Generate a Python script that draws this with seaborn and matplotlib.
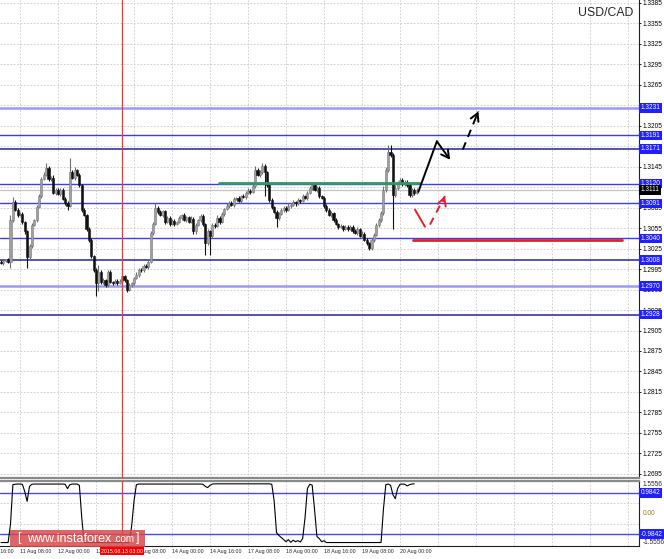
import numpy as np
import pandas as pd
import seaborn as sns
import matplotlib.pyplot as plt
import matplotlib.transforms as mtransforms
from matplotlib.patches import Rectangle

# USD/CAD H1, bar 0 = 11 Aug 00:00 (weekend hours skipped, like the terminal does)
first_open = 1.3006
closes = [
    1.3004, 1.3007, 1.3009, 1.3006, 1.3067, 1.3093, 1.3082, 1.3074, 1.3076, 1.3064,
    1.3050, 1.3013, 1.3029, 1.3060, 1.3067, 1.3086, 1.3102, 1.3127, 1.3133, 1.3143,
    1.3127, 1.3129, 1.3107, 1.3111, 1.3105, 1.3111, 1.3098, 1.3092, 1.3088, 1.3137,
    1.3129, 1.3140, 1.3133, 1.3118, 1.3082, 1.3074, 1.3053, 1.3038, 1.3014, 1.2994,
    1.2975, 1.2991, 1.2976, 1.2979, 1.2971, 1.2991, 1.2976, 1.2975, 1.2978, 1.2975,
    1.2978, 1.2985, 1.2979, 1.2965, 1.2971, 1.2974, 1.2982, 1.2987, 1.2994, 1.2993,
    1.3000, 1.2998, 1.3006, 1.3048, 1.3061, 1.3085, 1.3079, 1.3074, 1.3080, 1.3064,
    1.3070, 1.3061, 1.3066, 1.3061, 1.3064, 1.3070, 1.3074, 1.3067, 1.3071, 1.3064,
    1.3069, 1.3050, 1.3060, 1.3067, 1.3073, 1.3061, 1.3033, 1.3050, 1.3044, 1.3060,
    1.3058, 1.3070, 1.3064, 1.3076, 1.3083, 1.3088, 1.3092, 1.3089, 1.3098, 1.3099,
    1.3095, 1.3102, 1.3101, 1.3107, 1.3110, 1.3108, 1.3117, 1.3140, 1.3133, 1.3137,
    1.3146, 1.3137, 1.3118, 1.3096, 1.3086, 1.3079, 1.3070, 1.3076, 1.3082, 1.3085,
    1.3082, 1.3088, 1.3089, 1.3093, 1.3091, 1.3096, 1.3095, 1.3102, 1.3099, 1.3107,
    1.3114, 1.3118, 1.3111, 1.3114, 1.3102, 1.3099, 1.3088, 1.3082, 1.3074, 1.3077,
    1.3067, 1.3061, 1.3057, 1.3058, 1.3054, 1.3057, 1.3054, 1.3057, 1.3051, 1.3048,
    1.3053, 1.3044, 1.3047, 1.3038, 1.3033, 1.3026, 1.3038, 1.3045, 1.3060, 1.3067,
    1.3077, 1.3111, 1.3140, 1.3167, 1.3162, 1.3104, 1.3114, 1.3121, 1.3125, 1.3120,
    1.3123, 1.3118, 1.3104, 1.3111, 1.3107, 1.3111,
]
upper_wick_pips = [
    2, 2, 1, 2, 7, 7, 3, 2, 3, 2,  2, 2, 3, 3, 2, 3, 3, 3, 4, 7,
    3, 2, 3, 2, 2, 2, 3, 2, 2, 20,  3, 4, 2, 3, 2, 3, 2, 3, 2, 2,
    3, 10, 2, 3, 2, 3, 2, 2, 3, 2,  2, 23, 2, 2, 3, 2, 2, 3, 2, 3,
    2, 3, 2, 3, 3, 6, 2, 3, 2, 2,  3, 2, 3, 2, 2, 3, 2, 3, 2, 2,
    3, 2, 3, 2, 3, 2, 2, 3, 2, 3,  3, 4, 2, 3, 2, 3, 2, 2, 3, 2,
    3, 2, 3, 2, 3, 2, 3, 6, 3, 3,  4, 3, 2, 2, 3, 2, 2, 3, 2, 3,
    2, 3, 2, 3, 2, 3, 2, 3, 2, 3,  3, 3, 2, 3, 2, 2, 3, 2, 2, 3,
    2, 3, 2, 3, 2, 3, 2, 3, 2, 2,  3, 2, 3, 2, 2, 2, 3, 3, 3, 3,
    3, 5, 4, 9, 10, 3, 4, 3, 3, 3,  3, 3, 3, 3, 2, 2,
]
lower_wick_pips = [
    2, 3, 2, 2, 9, 3, 2, 3, 2, 3,  3, 16, 3, 3, 2, 3, 2, 3, 2, 2,
    3, 3, 2, 3, 2, 3, 2, 3, 6, 2,  2, 3, 2, 3, 3, 2, 3, 3, 3, 3,
    20, 12, 3, 3, 3, 3, 2, 3, 2, 3,  2, 16, 3, 3, 2, 3, 2, 2, 3, 2,
    3, 2, 3, 2, 3, 2, 3, 2, 3, 3,  2, 3, 2, 3, 2, 2, 3, 2, 3, 2,
    2, 3, 3, 2, 3, 3, 18, 3, 28, 3,  3, 2, 3, 2, 3, 2, 3, 2, 3, 2,
    2, 3, 2, 3, 2, 3, 2, 3, 2, 3,  3, 35, 3, 3, 3, 2, 13, 3, 2, 3,
    3, 2, 3, 2, 3, 2, 3, 2, 2, 3,  2, 3, 2, 3, 3, 2, 3, 3, 2, 3,
    3, 2, 3, 2, 3, 2, 3, 2, 3, 2,  3, 2, 3, 2, 3, 3, 3, 3, 2, 3,
    3, 3, 3, 3, 3, 51, 3, 3, 2, 3,  3, 3, 4, 3, 3, 2,
]
# oscillator in the lower window
osc = [
    -1.39, -1.39, -1.39, -1.39, -0.50, 1.38, 1.40, 1.41, 1.41, 1.40,
    1.05, 0.58, 1.30, 1.40, 1.41, 1.41, 1.41, 1.41, 1.41, 1.41,
    1.41, 1.41, 1.41, 1.41, 1.41, 1.41, 1.41, 1.40, 1.19, 1.38,
    1.41, 1.41, 1.41, 1.35, -0.20, -1.39, -1.39, -1.39, -1.39, -1.39,
    -1.39, -1.39, -1.39, -1.39, -1.39, -1.39, -1.39, -1.39, -1.39, -1.39,
    -1.39, -1.39, -1.39, -1.39, -1.39, -0.60, 0.60, 1.38, 1.41, 1.41,
    1.41, 1.41, 1.41, 1.41, 1.41, 1.41, 1.41, 1.41, 1.41, 1.41,
    1.41, 1.41, 1.41, 1.41, 1.41, 1.41, 1.41, 1.41, 1.41, 1.41,
    1.41, 1.41, 1.41, 1.41, 1.41, 1.40, 1.30, 1.24, 1.35, 1.41,
    1.42, 1.42, 1.42, 1.42, 1.42, 1.42, 1.42, 1.42, 1.42, 1.42,
    1.42, 1.42, 1.42, 1.42, 1.42, 1.42, 1.42, 1.42, 1.42, 1.42,
    1.42, 1.42, 1.42, 1.42, 1.40, 0.60, -0.92, -1.05, -1.15, -1.25,
    -1.35, -1.25, -1.38, -1.28, -1.35, -1.30, -1.36, -1.20, -0.20, 1.20,
    1.40, 1.36, 0.20, -1.10, -1.20, -1.35, -1.30, -1.39, -1.39, -1.39,
    -1.39, -1.39, -1.39, -1.39, -1.39, -1.39, -1.39, -1.39, -1.39, -1.39,
    -1.39, -1.39, -1.39, -1.39, -1.39, -1.39, -1.39, -1.39, -1.39, -1.39,
    -1.39, 0.20, 1.38, 1.41, 1.35, 0.90, 0.71, 1.20, 1.40, 1.41,
    1.40, 1.32, 1.38, 1.41, 1.42,
]
osc_levels = [0.9842, -0.9842]
osc_scale = 1.5556

level_prices = [1.3231, 1.3191, 1.3171, 1.3120, 1.3091, 1.3040, 1.3008, 1.2970, 1.2928]
bid_price = 1.3111
price_ticks = [1.3385, 1.3355, 1.3325, 1.3295, 1.3265, 1.3235, 1.3205, 1.3175,
               1.3145, 1.3115, 1.3085, 1.3055, 1.3025, 1.2995, 1.2965, 1.2935,
               1.2905, 1.2875, 1.2845, 1.2815, 1.2785, 1.2755, 1.2725, 1.2695]

time_tick_bars = [-8, 8, 24, 40, 56, 72, 88, 104, 120, 136, 152, 168]
time_tick_labels = ["10 Aug 16:00", "11 Aug 08:00", "12 Aug 00:00", "12 Aug 16:00",
                    "13 Aug 08:00", "14 Aug 00:00", "14 Aug 16:00", "17 Aug 08:00",
                    "18 Aug 00:00", "18 Aug 16:00", "19 Aug 08:00", "20 Aug 00:00"]
grid_bars = [8, 24, 40, 56, 72, 88, 104, 120, 136, 152, 168, 184, 200, 216, 232, 248, 264]
marker_bar = 51
marker_label = "2015.08.13 03:00"

# drawn analysis
support_bars = [91.8, 176.4]
support_price = 1.3121
target_bars = [173.5, 261.5]
target_price = 1.3038
black_bars = [175.7, 183.5, 189.1]
black_prices = [1.3108, 1.3182, 1.3155]
black_dash_bars = [194.4, 201.0]
black_dash_prices = [1.3170, 1.3226]
red_bars = [174.3, 178.5]
red_prices = [1.3082, 1.3057]
red_dash_bars = [180.6, 186.9]
red_dash_prices = [1.3060, 1.3102]

sns.set_style("white")
plt.rcParams['font.family'] = ['Liberation Sans', 'DejaVu Sans']

W, H = 664, 559
fig = plt.figure(figsize=(W / 100, H / 100), dpi=100)
ax = fig.add_axes([0, (H - 478) / H, 639 / W, 478 / H])
axi = fig.add_axes([0, (H - 546) / H, 639 / W, 65 / H], sharex=ax)

df = pd.DataFrame({'close': closes})
df['open'] = [first_open] + closes[:-1]
df['high'] = df[['open', 'close']].max(axis=1) + np.array(upper_wick_pips) * 0.0001
df['low'] = df[['open', 'close']].min(axis=1) - np.array(lower_wick_pips) * 0.0001
df['bar'] = np.arange(len(df))
up = df['close'] >= df['open']

# levels
light = {1.3231, 1.2970}
dark = {1.3171, 1.3008, 1.2928}
for p in level_prices:
    if p in light:
        ax.axhline(p, color='#9a9af6', lw=1.8, zorder=2)
    elif p in dark:
        ax.axhline(p, color='#24249c', lw=1.1, zorder=2)
    else:
        ax.axhline(p, color='#3c3cf0', lw=1.0, zorder=2)
ax.axhline(bid_price, color='#c4c4c4', lw=0.9, zorder=2)

# candles
ax.vlines(df.loc[up, 'bar'], df.loc[up, 'low'], df.loc[up, 'high'], color='#6e6e6e', lw=0.8, zorder=3)
ax.vlines(df.loc[~up, 'bar'], df.loc[~up, 'low'], df.loc[~up, 'high'], color='#111111', lw=0.8, zorder=3)
ax.bar(df.loc[up, 'bar'], (df['close'] - df['open'])[up], bottom=df.loc[up, 'open'],
       width=0.9, color='#a0a0a0', edgecolor='#7a7a7a', lw=0.4, zorder=4)
ax.bar(df.loc[~up, 'bar'], (df['close'] - df['open'])[~up], bottom=df.loc[~up, 'open'],
       width=0.9, color='#111111', edgecolor='#111111', lw=0.4, zorder=4)

# analysis drawings
ax.plot(support_bars, [support_price] * 2, color='#2f9a63', lw=2, zorder=5)
ax.plot(target_bars, [target_price] * 2, color='#e5202a', lw=2, zorder=5)
ax.plot(black_bars[:2], black_prices[:2], color='black', lw=1.4, zorder=6)
head = dict(arrowstyle='->,head_length=0.55,head_width=0.3', lw=1.4, shrinkA=0, shrinkB=0)
ax.annotate('', xy=(black_bars[2], black_prices[2]), xytext=(black_bars[1], black_prices[1]),
            arrowprops=dict(color='black', **head), zorder=6)
ax.plot(black_dash_bars, black_dash_prices, color='black', lw=1.4, ls=(0, (4, 3)), zorder=6)
ax.annotate('', xy=(black_dash_bars[1], black_dash_prices[1]),
            xytext=(black_dash_bars[1] - 1.0, black_dash_prices[1] - 0.0008),
            arrowprops=dict(color='black', **head), zorder=6)
ax.plot(red_bars, red_prices, color='#e5202a', lw=1.4, zorder=6)
ax.plot(red_dash_bars, red_dash_prices, color='#e5202a', lw=1.4, ls=(0, (4, 3)), zorder=6)
ax.annotate('', xy=(red_dash_bars[1], red_dash_prices[1]),
            xytext=(red_dash_bars[1] - 0.8, red_dash_prices[1] - 0.0008),
            arrowprops=dict(color='#e5202a', **head), zorder=6)

for a in (ax, axi):
    a.axvline(marker_bar, color='#ff3030', lw=0.9, zorder=5)

ax.set_xlim(-0.42, 268.6)
ax.set_ylim(1.2689, 1.3389)

# grid + price scale
ax.set_xticks(grid_bars)
ax.tick_params(axis='x', length=0, labelbottom=False)
ax.yaxis.tick_right()
ax.set_yticks(price_ticks)
ax.set_yticklabels([f"{p:.4f}" for p in price_ticks])
ax.tick_params(axis='y', length=1.5, width=0.6, pad=1.2, labelsize=4.7, colors='black')
ax.grid(True, color='#c8c8c8', ls=(0, (2, 2)), lw=0.6)
ax.set_axisbelow(True)

trans = mtransforms.blended_transform_factory(ax.transAxes, ax.transData)
for p in level_prices:
    ax.text(1.0025, p, f"{p:.4f}", transform=trans, ha='left', va='center', fontsize=4.7,
            color='white', clip_on=False, zorder=10,
            bbox=dict(boxstyle='square,pad=0.18', fc='#1f1fff', ec='none'))
ax.text(1.0025, bid_price, f"{bid_price:.4f}", transform=trans, ha='left', va='center',
        fontsize=4.7, color='white', clip_on=False, zorder=11,
        bbox=dict(boxstyle='square,pad=0.18', fc='black', ec='none'))

# oscillator window
sns.lineplot(x=np.arange(len(osc)), y=osc, ax=axi, color='black', lw=0.8, zorder=4)
for lv in osc_levels:
    axi.axhline(lv, color='#4848f0', lw=1.0, zorder=2)
axi.set_ylim(-osc_scale, osc_scale)
axi.set_yticks([0.48, -0.48])
axi.tick_params(axis='y', length=0, labelleft=False, labelright=False)
axi.set_xticks(grid_bars)
axi.tick_params(axis='x', length=2, width=0.6, labelbottom=False)
axi.grid(True, color='#c8c8c8', ls=(0, (2, 2)), lw=0.6)
axi.set_axisbelow(True)

itrans = mtransforms.blended_transform_factory(axi.transAxes, axi.transData)
axi.text(1.006, osc_scale, f"{osc_scale:.4f}", transform=itrans, ha='left', va='top',
         fontsize=4.7, clip_on=False)
axi.text(1.006, -osc_scale, f"{-osc_scale:.4f}", transform=itrans, ha='left', va='bottom',
         fontsize=4.7, clip_on=False)
axi.text(1.006, 0, "0.00", transform=itrans, ha='left', va='center', fontsize=4.7,
         color='#a07a10', clip_on=False)
for lv in osc_levels:
    axi.text(1.0025, lv, f"{lv:.4f}", transform=itrans, ha='left', va='center', fontsize=4.7,
             color='white', clip_on=False, zorder=10,
             bbox=dict(boxstyle='square,pad=0.18', fc='#1f1fff', ec='none'))

# time scale
ttrans = mtransforms.blended_transform_factory(axi.transData, axi.transAxes)
for b, lab in zip(time_tick_bars, time_tick_labels):
    axi.text(b, -0.08, lab, transform=ttrans, ha='left', va='center', fontsize=3.8, clip_on=False)
axi.text(marker_bar, -0.08, marker_label, transform=ttrans, ha='center', va='center',
         fontsize=3.8, color='white', clip_on=False, zorder=10,
         bbox=dict(boxstyle='square,pad=0.25', fc='#ff0000', ec='none'))

# frames
for a in (ax, axi):
    a.spines['left'].set_visible(False)
    a.spines['right'].set_color('#202020')
    a.spines['right'].set_linewidth(0.8)
ax.spines['top'].set_visible(False)
ax.spines['bottom'].set_color('#8a8a8a')
ax.spines['bottom'].set_linewidth(1.6)
axi.spines['top'].set_color('#8a8a8a')
axi.spines['top'].set_linewidth(1.6)
axi.spines['bottom'].set_color('#202020')
axi.spines['bottom'].set_linewidth(0.8)

fig.text(578 / W, 1 - 13 / H, "USD/CAD", fontsize=8.8, ha='left', va='center')

# watermark
fig.patches.append(Rectangle((10 / W, 1 - 547 / H), 135 / W, 17 / H, transform=fig.transFigure,
                             facecolor='#d84a4a', alpha=0.85, edgecolor='none', zorder=20))
fig.text(17 / W, 1 - 538.5 / H, "[", fontsize=9, color='white', va='center', zorder=21)
fig.text(27 / W, 1 - 538.5 / H, "www.instaforex", fontsize=9, color='white', va='center', zorder=21)
fig.text(113 / W, 1 - 539.5 / H, ".com", fontsize=7, color='white', va='center', zorder=21)
fig.text(136 / W, 1 - 538.5 / H, "]", fontsize=9, color='white', va='center', zorder=21)

fig.savefig('out.png', dpi=100)
